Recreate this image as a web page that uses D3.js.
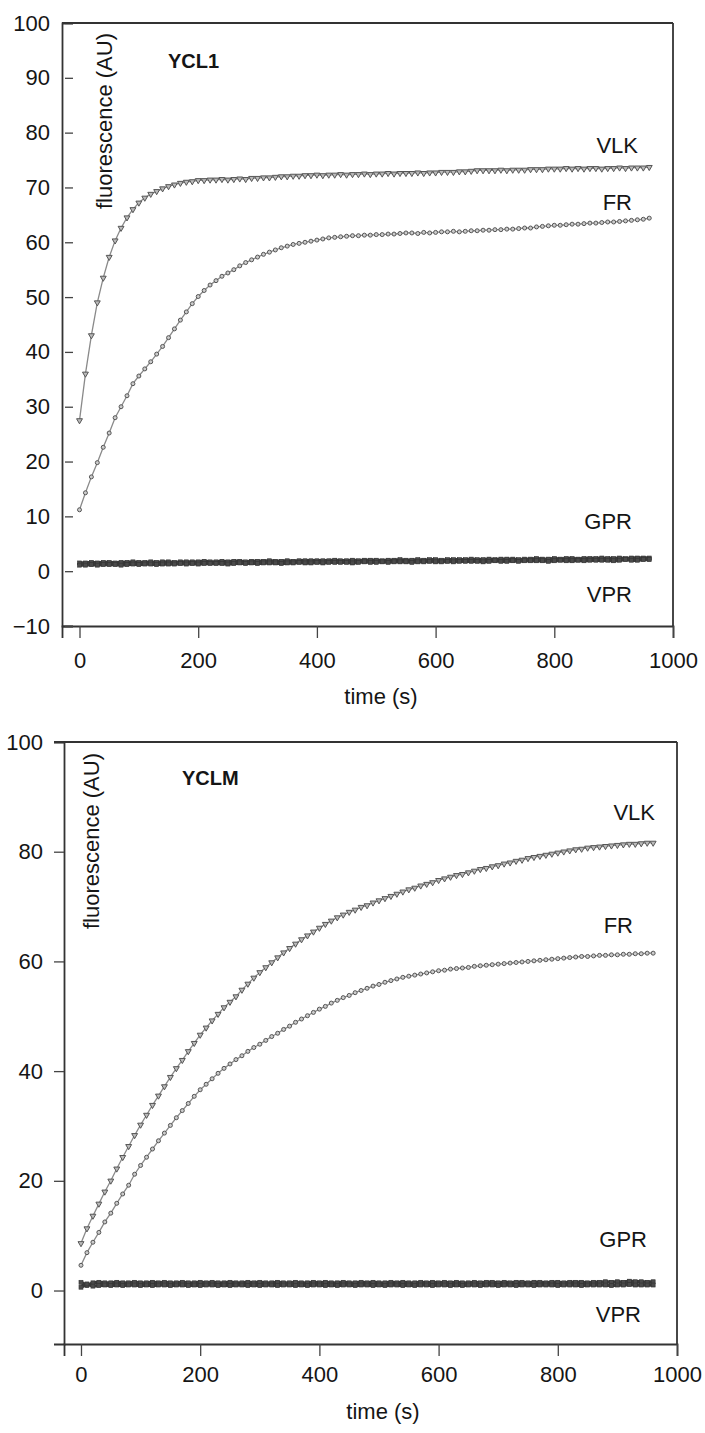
<!DOCTYPE html>
<html>
<head>
<meta charset="utf-8">
<script src="https://cdn.jsdelivr.net/npm/d3@7"></script>
<style>
  body { margin: 0; background: #fff; }
  svg text { font-family: "Liberation Sans", Arial, sans-serif; fill: #151515; }
</style>
</head>
<body>
<script>
// sampling times (s)
var timeS = [0,10,20,30,40,50,60,70,80,90,100,110,120,130,140,150,160,170,180,190,
  200,210,220,230,240,250,260,270,280,290,300,310,320,330,340,350,360,370,380,390,
  400,410,420,430,440,450,460,470,480,490,500,510,520,530,540,550,560,570,580,590,
  600,610,620,630,640,650,660,670,680,690,700,710,720,730,740,750,760,770,780,790,
  800,810,820,830,840,850,860,870,880,890,900,910,920,930,940,950,960];

// panel YCL1
var ycl1VLK = [27.5,36,43,49,53.5,57.3,60.3,62.6,64.5,66,67.2,68.1,68.8,69.3,69.8,70.2,70.5,70.8,71.0,71.1,
  71.3,71.3,71.4,71.4,71.5,71.4,71.5,71.6,71.5,71.7,71.7,71.8,71.8,71.9,72.0,72.0,72.1,72.1,72.2,72.2,
  72.3,72.2,72.3,72.3,72.4,72.3,72.4,72.4,72.5,72.4,72.5,72.5,72.6,72.5,72.6,72.6,72.6,72.7,72.6,72.7,
  72.7,72.8,72.8,72.8,72.9,72.9,73.0,73.1,73.1,73.1,73.1,73.2,73.1,73.2,73.2,73.2,73.3,73.3,73.3,73.4,
  73.4,73.4,73.5,73.4,73.5,73.4,73.5,73.5,73.4,73.5,73.5,73.6,73.5,73.6,73.6,73.6,73.7];
var ycl1FR = [11.2,14.3,17.2,19.8,22.6,25.2,28,30,32,34.2,35.6,36.9,38.2,39.6,41.0,42.6,44.2,45.8,47.3,48.8,
  50.1,51.2,52.2,53.0,53.8,54.4,55.0,55.7,56.3,56.8,57.3,57.8,58.2,58.6,59.0,59.3,59.6,59.8,60.0,60.2,
  60.4,60.6,60.8,60.9,61.0,61.1,61.2,61.2,61.3,61.3,61.4,61.4,61.5,61.5,61.6,61.7,61.7,61.6,61.8,61.7,
  61.8,61.9,61.9,62.0,61.9,62.0,62.1,62.1,62.2,62.2,62.3,62.3,62.4,62.4,62.5,62.6,62.6,62.8,62.9,63.0,
  63.1,63.1,63.2,63.3,63.3,63.4,63.5,63.5,63.6,63.7,63.7,63.8,63.9,64.0,64.1,64.2,64.4];
var ycl1GPR = [1.5,1.5,1.6,1.5,1.6,1.6,1.5,1.6,1.6,1.7,1.6,1.6,1.7,1.6,1.7,1.7,1.6,1.7,1.7,1.7,
  1.7,1.8,1.7,1.7,1.8,1.7,1.8,1.8,1.7,1.8,1.8,1.8,1.9,1.8,1.8,1.9,1.8,1.9,1.9,1.9,
  1.9,1.9,1.9,2.0,1.9,1.9,2.0,1.9,2.0,2.0,2.0,1.9,2.0,2.0,2.1,2.0,2.0,2.1,2.0,2.1,
  2.1,2.0,2.1,2.1,2.1,2.1,2.2,2.1,2.1,2.2,2.1,2.2,2.2,2.2,2.1,2.2,2.2,2.3,2.2,2.2,
  2.3,2.2,2.3,2.3,2.2,2.3,2.3,2.3,2.4,2.3,2.3,2.4,2.3,2.4,2.4,2.4,2.4];
var ycl1VPR = [1.1,1.1,1.2,1.1,1.2,1.2,1.2,1.1,1.2,1.3,1.2,1.3,1.3,1.2,1.3,1.3,1.3,1.4,1.3,1.4,
  1.3,1.4,1.4,1.4,1.4,1.3,1.4,1.5,1.4,1.5,1.4,1.5,1.5,1.5,1.4,1.5,1.5,1.6,1.5,1.5,
  1.6,1.5,1.6,1.6,1.6,1.6,1.5,1.6,1.7,1.6,1.6,1.7,1.6,1.7,1.7,1.7,1.6,1.7,1.7,1.8,
  1.7,1.7,1.8,1.7,1.8,1.8,1.8,1.8,1.7,1.8,1.9,1.8,1.8,1.9,1.8,1.9,1.9,1.9,1.9,1.8,
  1.9,2.0,1.9,1.9,2.0,1.9,2.0,2.0,2.0,2.0,1.9,2.0,2.1,2.0,2.0,2.1,2.1];

// panel YCLM
var yclmVLK = [8.6,11.3,13.6,15.8,18,20,22.2,24.3,26.3,28.3,30.2,32,33.8,35.5,37.2,38.9,40.5,42,43.6,45.1,
  46.6,47.9,49.2,50.4,51.6,52.6,53.6,54.8,55.9,57,58,58.9,59.8,60.7,61.6,62.4,63.2,64.0,64.7,65.4,
  66.1,66.8,67.4,68.0,68.5,69.0,69.4,69.9,70.2,70.7,71.1,71.5,71.9,72.3,72.7,73.1,73.4,73.8,74.1,74.4,
  74.8,75.1,75.4,75.7,75.9,76.2,76.5,76.8,77.0,77.3,77.5,77.8,78.0,78.3,78.5,78.8,79.0,79.2,79.4,79.6,
  79.8,80.0,80.2,80.4,80.5,80.7,80.8,80.9,81.0,81.1,81.2,81.3,81.4,81.4,81.5,81.6,81.6];
var yclmFR = [4.6,6.9,8.8,10.6,12.5,14.1,15.9,17.6,19.2,21.2,22.8,24.3,25.8,27.3,28.7,30.1,31.5,32.8,34.1,35.4,
  36.6,37.6,38.6,39.6,40.5,41.3,42.1,42.8,43.6,44.3,44.9,45.6,46.3,46.9,47.6,48.2,48.9,49.5,50.1,50.7,
  51.3,51.8,52.4,52.9,53.4,53.8,54.3,54.7,55.1,55.5,55.8,56.2,56.5,56.8,57.1,57.3,57.5,57.7,57.9,58.1,
  58.3,58.4,58.6,58.7,58.8,58.9,59.1,59.2,59.3,59.4,59.5,59.6,59.7,59.8,59.9,60.0,60.1,60.2,60.3,60.4,
  60.5,60.6,60.7,60.8,60.9,60.9,61.0,61.1,61.1,61.2,61.2,61.3,61.3,61.4,61.4,61.5,61.5];
var yclmGPR = [1.5,0.9,1.4,1.5,1.4,1.4,1.5,1.4,1.4,1.5,1.4,1.4,1.5,1.4,1.5,1.4,1.4,1.5,1.4,1.4,
  1.5,1.4,1.5,1.4,1.4,1.5,1.4,1.4,1.5,1.4,1.5,1.4,1.4,1.5,1.4,1.4,1.5,1.4,1.4,1.5,
  1.4,1.5,1.4,1.4,1.5,1.4,1.4,1.5,1.4,1.5,1.4,1.4,1.5,1.4,1.5,1.4,1.4,1.5,1.4,1.5,
  1.4,1.5,1.4,1.5,1.4,1.4,1.5,1.4,1.5,1.5,1.4,1.5,1.4,1.5,1.5,1.4,1.5,1.5,1.4,1.5,
  1.5,1.4,1.5,1.5,1.5,1.4,1.5,1.5,1.6,1.5,1.6,1.5,1.7,1.6,1.6,1.5,1.6];
var yclmVPR = [0.6,1.2,0.8,0.9,1.0,0.9,1.0,0.9,1.0,1.0,0.9,1.0,0.9,1.0,1.0,0.9,1.0,1.0,0.9,1.0,
  0.9,1.0,1.0,0.9,1.0,0.9,1.0,1.0,0.9,1.0,0.9,1.0,1.0,0.9,1.0,1.0,0.9,1.0,0.9,1.0,
  1.0,0.9,1.0,0.9,1.0,1.0,0.9,1.0,1.0,0.9,1.0,0.9,1.0,1.0,0.9,1.0,0.9,1.0,1.0,0.9,
  1.0,1.0,0.9,1.0,0.9,1.0,1.0,0.9,1.0,1.0,0.9,1.0,1.0,0.9,1.0,1.0,0.9,1.0,1.0,1.0,
  0.9,1.0,1.0,1.0,0.9,1.0,1.0,1.0,1.0,0.9,1.0,1.0,1.1,1.0,1.0,1.0,1.0];

var xTicks = [0, 200, 400, 600, 800, 1000];
var ycl1Ticks = [-10, 0, 10, 20, 30, 40, 50, 60, 70, 80, 90, 100];
var yclmTicks = [0, 20, 40, 60, 80, 100];

var svg = d3.select("body").append("svg")
    .attr("width", 705)
    .attr("height", 1433);

function drawPanel(p) {
    var x = d3.scaleLinear().domain(p.xDomain).range([p.left, p.right]);
    var y = d3.scaleLinear().domain(p.yDomain).range([p.bottom, p.top]);
    var g = svg.append("g");

    // x axis
    var xa = g.append("g")
        .attr("transform", "translate(0," + p.bottom + ")")
        .call(d3.axisBottom(x).tickValues(xTicks).tickFormat(d3.format("d"))
              .tickSizeOuter(0).tickSize(p.xTickSize).tickPadding(p.xTickPad));
    // y axis
    var ya = g.append("g")
        .attr("transform", "translate(" + p.left + ",0)")
        .call(d3.axisLeft(y).tickValues(p.yTicks).tickFormat(d3.format("d"))
              .tickSizeOuter(0).tickSize(p.yTickSize).tickPadding(p.yTickPad));
    [xa, ya].forEach(function(a) {
        a.select(".domain").attr("stroke", "#333").attr("stroke-width", 1.8);
        a.selectAll(".tick line").attr("stroke", "#444").attr("stroke-width", 1.3);
        a.selectAll(".tick text").attr("font-size", 22).attr("fill", "#151515")
            .style("font-family", "'Liberation Sans', Arial, sans-serif");
    });
    if (p.yTickSize < 0) ya.selectAll(".tick line").attr("x1", 3);

    // frame: top and right
    g.append("line").attr("x1", p.frameLeft).attr("x2", p.right)
        .attr("y1", p.top).attr("y2", p.top)
        .attr("stroke", "#333").attr("stroke-width", 1.8);
    g.append("line").attr("x1", p.right).attr("x2", p.right)
        .attr("y1", p.top).attr("y2", p.bottom)
        .attr("stroke", "#333").attr("stroke-width", 1.8);

    // flat series (GPR, VPR) drawn as dense dark band
    var line = d3.line().x(function(d) { return x(d[0]); }).y(function(d) { return y(d[1]); });
    [p.gpr, p.vpr].forEach(function(vals) {
        var pts = timeS.map(function(t, i) { return [t, vals[i]]; });
        g.append("path").datum(pts).attr("d", line)
            .attr("fill", "none").attr("stroke", "#3a3a3a").attr("stroke-width", 3.4);
        g.selectAll(null).data(pts).enter().append("rect")
            .attr("x", function(d) { return x(d[0]) - 2; })
            .attr("y", function(d) { return y(d[1]) - 2; })
            .attr("width", 4).attr("height", 4)
            .attr("fill", "#4a4a4a").attr("stroke", "#333").attr("stroke-width", 0.6);
    });

    // rising series
    [{v: p.vlk, sym: "tri"}, {v: p.fr, sym: "circ"}].forEach(function(s) {
        var pts = timeS.map(function(t, i) { return [t, s.v[i]]; });
        g.append("path").datum(pts).attr("d", line)
            .attr("fill", "none").attr("stroke", "#8a8a8a").attr("stroke-width", 1.3);
        if (s.sym === "circ") {
            g.selectAll(null).data(pts).enter().append("circle")
                .attr("cx", function(d) { return x(d[0]); })
                .attr("cy", function(d) { return y(d[1]); })
                .attr("r", 2)
                .attr("fill", "#ccc").attr("stroke", "#555").attr("stroke-width", 1);
        } else {
            var tri = d3.symbol().type(d3.symbolTriangle).size(15);
            g.selectAll(null).data(pts).enter().append("path")
                .attr("d", tri)
                .attr("transform", function(d) {
                    return "translate(" + x(d[0]) + "," + y(d[1]) + ") rotate(180)";
                })
                .attr("fill", "#bbb").attr("stroke", "#555").attr("stroke-width", 1);
        }
    });

    // texts
    g.append("text").attr("x", p.titleX).attr("y", p.titleY)
        .attr("font-size", 20).attr("font-weight", "bold").text(p.title);
    g.append("text")
        .attr("transform", "translate(" + p.ylabX + "," + p.ylabY + ") rotate(-90)")
        .attr("text-anchor", "end").attr("font-size", 22)
        .text("fluorescence (AU)");
    g.append("text").attr("x", p.xlabX).attr("y", p.xlabY)
        .attr("text-anchor", "middle").attr("font-size", 22).text("time (s)");
    p.labels.forEach(function(l) {
        g.append("text").attr("x", l[1]).attr("y", l[2])
            .attr("text-anchor", "end").attr("font-size", 22).text(l[0]);
    });
}

drawPanel({
    title: "YCL1", titleX: 168, titleY: 68,
    left: 62, right: 673, top: 23, bottom: 626, frameLeft: 62,
    xDomain: [-29.5, 1000], yDomain: [-10, 100],
    yTicks: ycl1Ticks, yTickSize: -11, yTickPad: 12,
    xTickSize: 12, xTickPad: 14,
    ylabX: 112, ylabY: 33, xlabX: 381, xlabY: 704,
    vlk: ycl1VLK, fr: ycl1FR, gpr: ycl1GPR, vpr: ycl1VPR,
    labels: [["VLK", 638, 153], ["FR", 632, 210], ["GPR", 632, 529], ["VPR", 632, 602]]
});

drawPanel({
    title: "YCLM", titleX: 182, titleY: 785,
    left: 64, right: 677, top: 742, bottom: 1344, frameLeft: 54,
    xDomain: [-28.5, 1000], yDomain: [-9.75, 100],
    yTicks: yclmTicks, yTickSize: 10, yTickPad: 11,
    xTickSize: 12, xTickPad: 10,
    ylabX: 99, ylabY: 753, xlabX: 383, xlabY: 1419,
    vlk: yclmVLK, fr: yclmFR, gpr: yclmGPR, vpr: yclmVPR,
    labels: [["VLK", 655, 820], ["FR", 633, 933], ["GPR", 647, 1247], ["VPR", 641, 1322]]
});
</script>
</body>
</html>
